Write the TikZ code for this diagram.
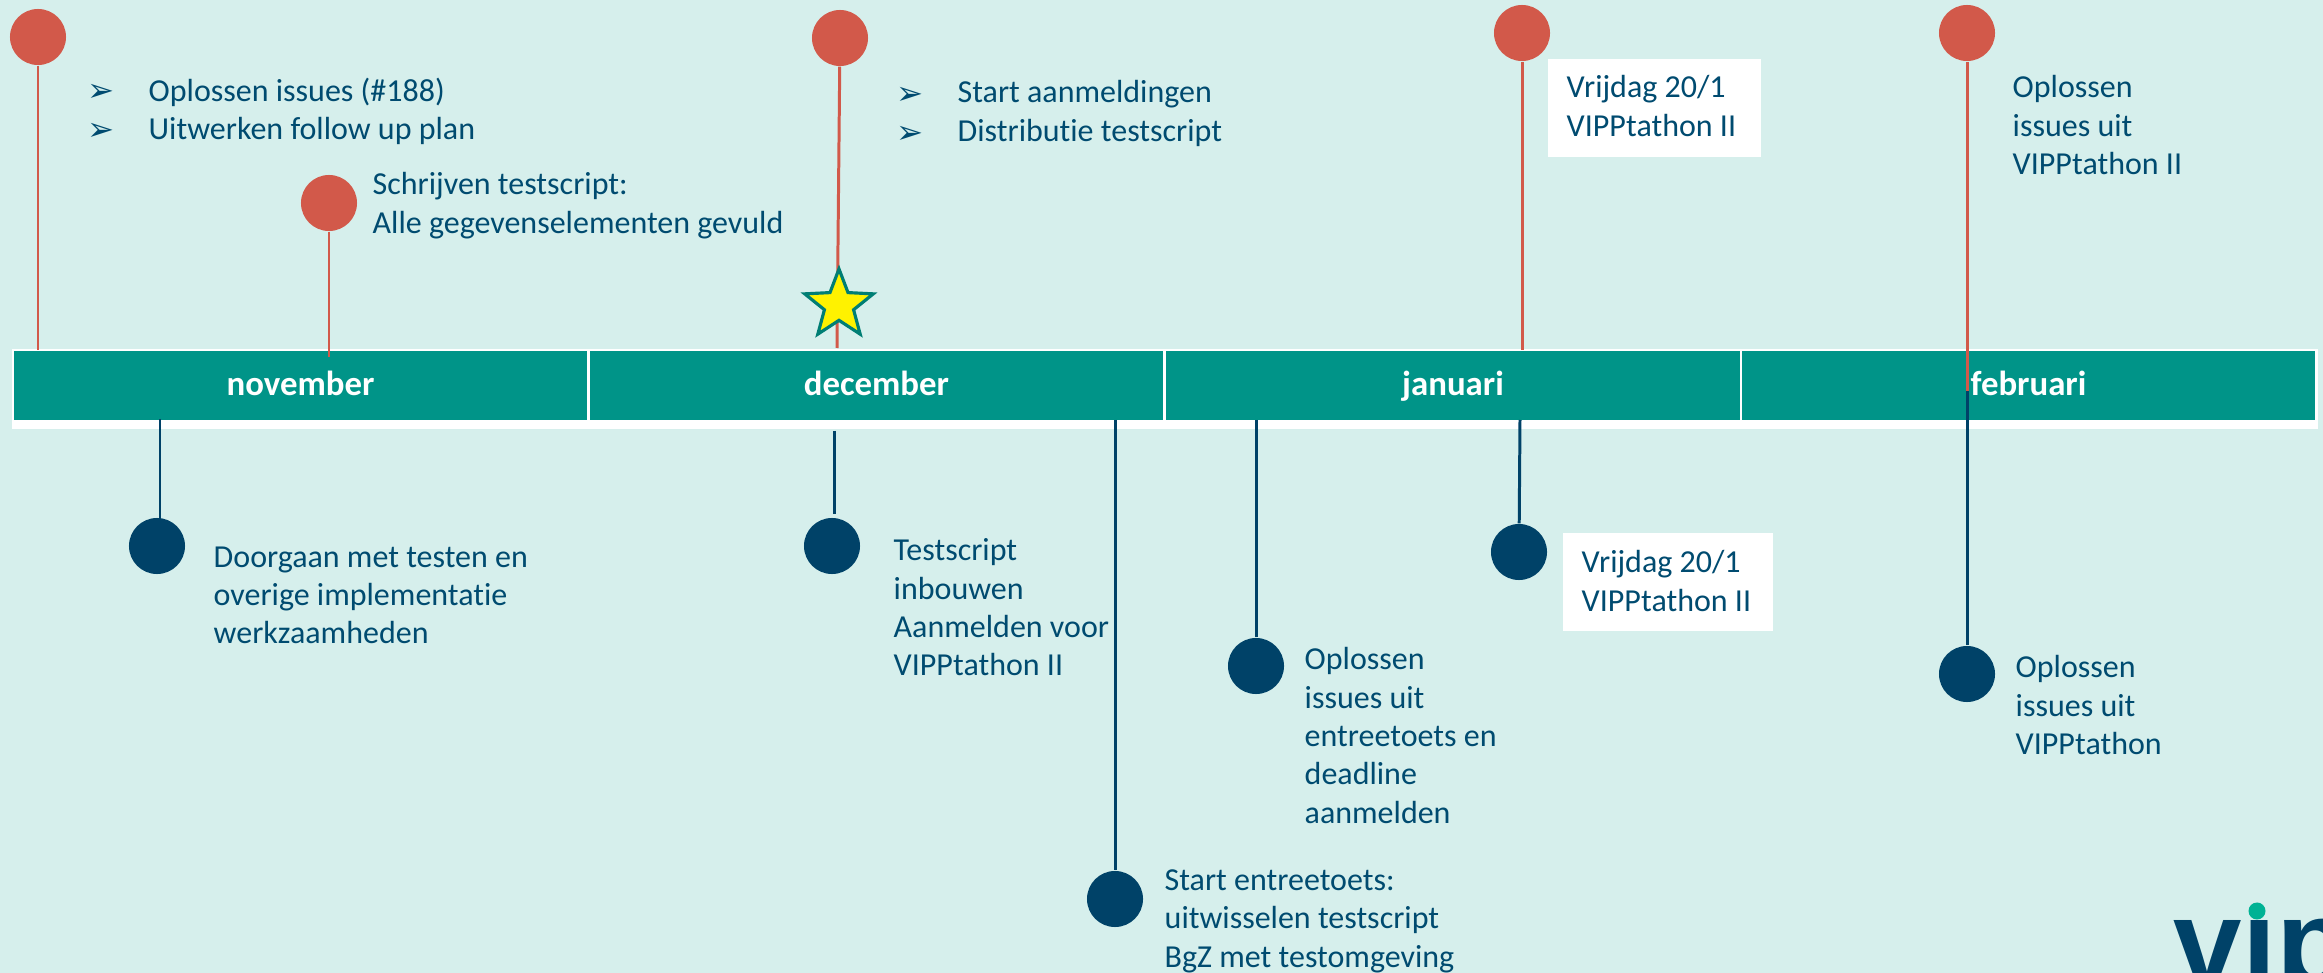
\documentclass[tikz,border=0pt]{standalone}
\usepackage{fontspec}
\setmainfont[Ligatures=NoCommon]{Carlito}
\newfontfamily\symfont{DejaVu Sans}
\newfontfamily\logofont{Liberation Sans}
\usetikzlibrary{shapes.geometric}
\definecolor{mintbg}{HTML}{D6EFEC}
\definecolor{barteal}{HTML}{009488}
\definecolor{pinred}{HTML}{D2594A}
\definecolor{pinnavy}{HTML}{004268}
\definecolor{inknavy}{HTML}{004B70}
\definecolor{logogreen}{HTML}{00B294}
\tikzset{
	redpin/.style={circle, fill=pinred, minimum size=5.6mm, inner sep=0},
	navypin/.style={circle, fill=pinnavy, minimum size=5.6mm, inner sep=0},
	redline/.style={draw=pinred, line width=0.85pt},
	navyline/.style={draw=pinnavy, line width=0.85pt},
	month/.style={rectangle, fill=barteal, text=white, minimum width=5.73cm, minimum height=6.9mm, inner sep=0, text height=2.6mm, text depth=0.6mm, font=\fontsize{9.9}{11}\selectfont\bfseries},
	lbl/.style={anchor=north west, inner sep=0, align=left, text=inknavy, font=\fontsize{9.1}{10.9}\selectfont, execute at begin node=\strut},
	bullets/.style={lbl, font=\symfont\fontsize{9.2}{10.9}\selectfont},
	whitebox/.style={rectangle, fill=white, anchor=north west, inner sep=0},
}

\begin{document}
\begin{tikzpicture}[x=0.01cm, y=-0.01cm]
	%%%%% START %%%%%
	\useasboundingbox (0, 0) rectangle (2323, 973);
	\fill[mintbg] (0, 0) rectangle (2323, 973);

	% month bar
	\fill[white] (12, 349) rectangle (2318, 429);
	\node[month] (nov) at (300.5, 385.5) {november};
	\node[month] (dec) at (876.5, 385.5) {december};
	\node[month] (jan) at (1453, 385.5) {januari};
	\node[month] (feb) at (2028.5, 385.5) {februari};

	% white boxes
	\node[whitebox, minimum width=2.13cm, minimum height=9.8mm] (boxtop) at (1547, 58) {};
	\node[whitebox, minimum width=2.1cm, minimum height=9.8mm] (boxbot) at (1562, 532) {};

	% pins above the bar
	\node[redpin] (r1) at (38, 37) {};
	\node[redpin] (r2) at (329, 203) {};
	\node[redpin] (r3) at (840, 38) {};
	\node[redpin] (r4) at (1522, 33) {};
	\node[redpin] (r5) at (1967, 33) {};
	\coordinate (r1end) at (38, 350);
	\coordinate (r2end) at (329, 357);
	\coordinate (r3end) at (837, 348);
	\coordinate (r4end) at (1522, 350);
	\coordinate (r5end) at (1967, 391);
	\draw[redline] (r1) -- (r1end);
	\draw[redline] (r2) -- (r2end);
	\draw[redline] (r3) -- (r3end);
	\draw[redline] (r4) -- (r4end);
	\draw[redline] (r5) -- (r5end);

	% pins below the bar
	\node[navypin] (n1) at (157, 546) {};
	\node[navypin] (n2) at (832, 546) {};
	\node[navypin] (n3) at (1256, 666) {};
	\node[navypin] (n4) at (1519, 552) {};
	\node[navypin] (n5) at (1967, 674) {};
	\node[navypin] (n6) at (1115, 899) {};
	\coordinate (n1top) at (160, 419);
	\coordinate (n1low) at (160, 526);
	\coordinate (n2top) at (834, 431);
	\coordinate (n2low) at (834, 514);
	\coordinate (n3top) at (1256, 420);
	\coordinate (n4top) at (1520, 420);
	\coordinate (n5top) at (1967, 391);
	\coordinate (n6top) at (1115, 420);
	\draw[navyline] (n1top) -- (n1low);
	\draw[navyline] (n2top) -- (n2low);
	\draw[navyline] (n3top) -- (n3);
	\draw[navyline] (n4top) -- (n4);
	\draw[navyline] (n5top) -- (n5);
	\draw[navyline] (n6top) -- (n6);

	\node[star, star points=5, star point ratio=2.35, fill=yellow, draw=barteal!85!black, line width=0.9pt, minimum size=7.2mm, inner sep=0] (goldstar) at (839, 305) {};

	% labels
	\node[bullets] (b1) at (87, 84) {➢\\➢};
	\node[lbl] (t1) at (148, 77) {Oplossen issues (\#188)\\Uitwerken follow up plan};
	\node[lbl] (t2) at (372, 172) {Schrijven testscript:\\Alle gegevenselementen gevuld};
	\node[bullets] (b2) at (896, 87) {➢\\➢};
	\node[lbl] (t3) at (957, 80) {Start aanmeldingen\\Distributie testscript};
	\node[lbl] (t4) at (1566, 75) {Vrijdag 20/1\\VIPPtathon II};
	\node[lbl] (t5) at (2012, 75) {Oplossen\\issues uit\\VIPPtathon II};
	\node[lbl] (t6) at (213, 546) {Doorgaan met testen en\\overige implementatie\\werkzaamheden};
	\node[lbl] (t7) at (893, 538) {Testscript\\inbouwen\\Aanmelden voor\\VIPPtathon II};
	\node[lbl] (t8) at (1304, 647) {Oplossen\\issues uit\\entreetoets en\\deadline\\aanmelden};
	\node[lbl] (t9) at (1581, 550) {Vrijdag 20/1\\VIPPtathon II};
	\node[lbl] (t10) at (2015, 655) {Oplossen\\issues uit\\VIPPtathon};
	\node[lbl] (t11) at (1164, 869) {Start entreetoets:\\uitwisselen testscript\\BgZ met testomgeving};

	% logo, cut off by the page
	\node[anchor=base west, inner sep=0, text=pinnavy, font=\logofont\bfseries\fontsize{35}{35}\selectfont] (logo) at (2173, 985) {vip};
	\fill[mintbg] (2240, 880) rectangle (2275, 920);
	\node[circle, fill=logogreen, minimum size=1.7mm, inner sep=0] (logodot) at (2257, 911) {};
	%%%%% END %%%%%
\end{tikzpicture}
\end{document}
